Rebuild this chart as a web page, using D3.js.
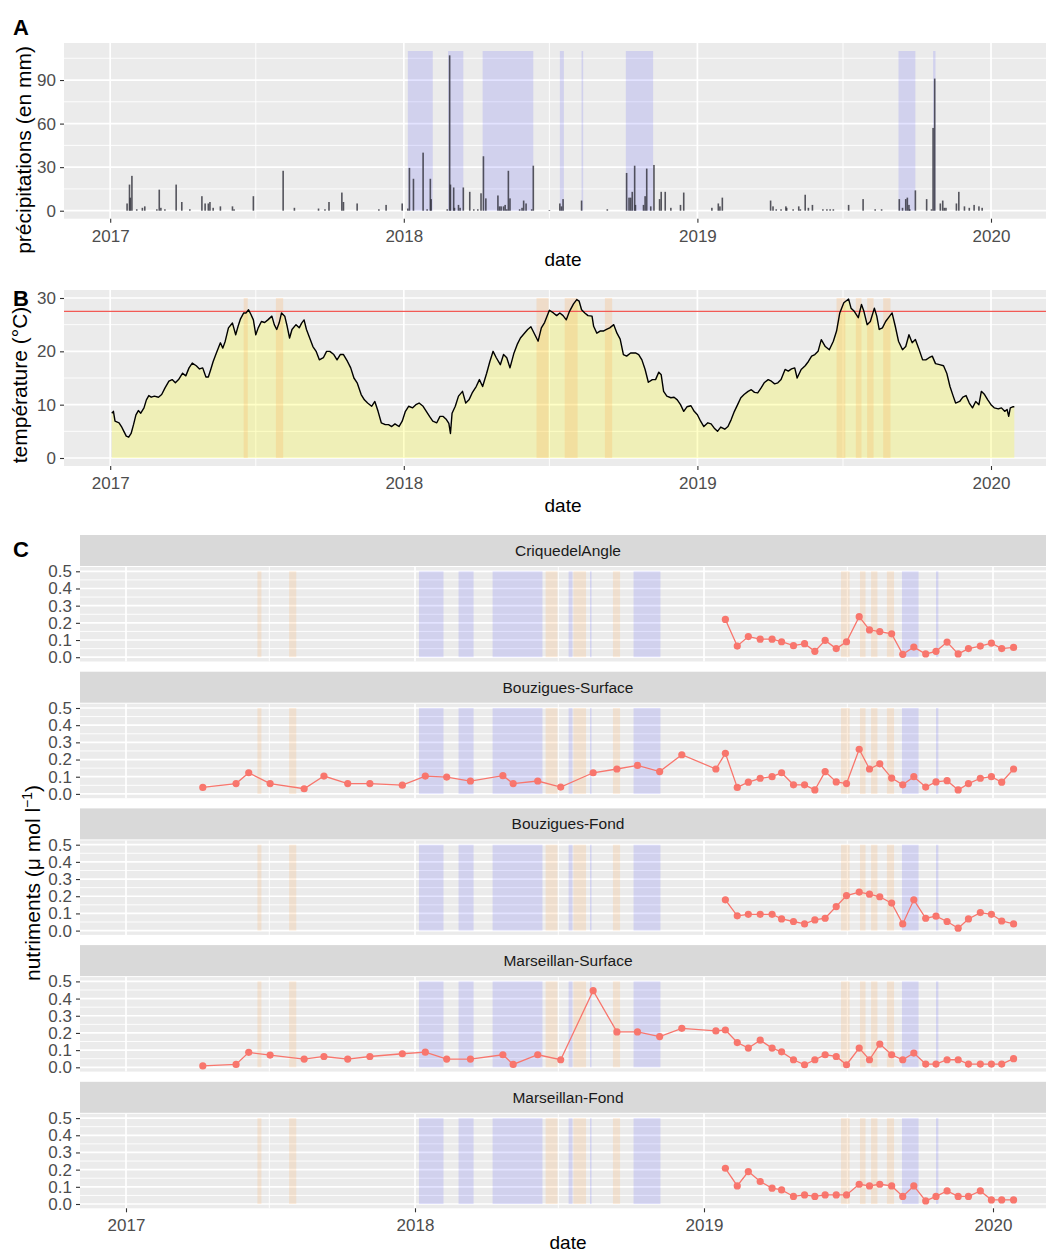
<!DOCTYPE html>
<html>
<head>
<meta charset="utf-8">
<script src="https://cdn.jsdelivr.net/npm/d3@7"></script>
<style>
  body { margin: 0; background: #fff; }
  svg { display: block; }
</style>
</head>
<body>
<script>
// ---------------------------------------------------------------------------
// Data
// ---------------------------------------------------------------------------
const yearTicks = ["2017-01-01", "2018-01-01", "2019-01-01", "2020-01-01"];
const halfYearGrid = ["2017-07-01", "2018-07-01", "2019-07-01"];

// Heavy-rain periods (blue) and heat periods (orange), start / end dates
const rainEvents = [
  ["2018-01-06", "2018-02-06"], ["2018-02-25", "2018-03-16"], ["2018-04-09", "2018-06-11"],
  ["2018-07-14", "2018-07-19"], ["2018-08-10", "2018-08-12"], ["2018-10-04", "2018-11-07"],
  ["2019-09-08", "2019-09-29"], ["2019-10-21", "2019-10-24"]
];
const heatEvents = [
  ["2017-06-16", "2017-06-21"], ["2017-07-26", "2017-08-04"], ["2018-06-15", "2018-06-30"],
  ["2018-07-20", "2018-08-05"], ["2018-09-08", "2018-09-17"], ["2019-06-23", "2019-07-04"],
  ["2019-07-17", "2019-07-24"], ["2019-07-31", "2019-08-08"], ["2019-08-20", "2019-08-29"]
];

// Daily precipitation: day number counted from 1 Jan 2017, and amount in mm
const seriesOrigin = "2017-01-01";
const rainDay = [21, 24, 25, 27, 33, 40, 43, 58, 61, 63, 68, 82, 89, 99, 114, 118, 122, 124, 128, 137,
  152, 154, 178, 215, 229, 259, 267, 272, 288, 290, 307, 334, 343, 363, 370, 372, 377, 389, 394, 398,
  399, 419, 422, 423, 427, 428, 433, 435, 439, 447, 452, 457, 461, 464, 467, 482, 484, 486, 489, 491,
  493, 495, 497, 509, 512, 514, 517, 524, 526, 546, 559, 561, 563, 586, 618, 642, 645, 647, 649, 652,
  653, 663, 665, 667, 672, 676, 683, 685, 690, 697, 709, 713, 748, 756, 758, 761, 821, 824, 828, 834,
  840, 841, 849, 856, 858, 864, 868, 873, 886, 891, 895, 899, 918, 936, 951, 959, 981, 985, 989, 991,
  993, 994, 1001, 1015, 1021, 1023, 1025, 1032, 1035, 1037, 1039, 1052, 1055, 1062, 1068, 1074, 1080, 1084];
const rainMm = [5, 18, 9, 24, 1, 2, 3, 1, 14.5, 2, 1, 18, 6, 1, 10, 5, 5, 6, 2, 3,
  3, 1, 10, 27.5, 2, 1.5, 1, 6, 12.5, 6, 5, 1, 4, 5, 1.5, 29.5, 22, 40, 1, 22,
  8, 1, 107, 18, 16, 2, 4, 2, 16, 13, 1, 1, 12, 37.5, 8.5, 10.5, 3, 3, 3, 4,
  1, 27.5, 8.5, 1, 2, 7, 5, 1, 31, 0.5, 5, 3, 8, 7, 1, 26, 9, 9, 13, 31,
  4, 4, 10, 29, 3, 31.5, 8, 13, 13, 2, 4, 12.5, 2, 5, 3, 9, 7, 3, 1, 1,
  3, 2, 1, 3, 1, 11, 2, 4, 1, 1, 1, 1, 4, 8, 1, 1, 8, 2, 8, 9,
  4, 1, 14, 8, 1, 57, 91, 5, 7, 2, 2, 5, 13, 3, 2, 4, 3, 2];

// Water temperature (°C): day number from 1 Jan 2017 and value
const tempDay = [2, 4, 6, 11, 14, 17, 20, 23, 26, 29, 32, 35, 38, 42, 45, 48, 51, 55, 60, 64,
  68, 73, 77, 81, 85, 90, 94, 98, 102, 107, 111, 115, 119, 122, 125, 128, 132, 137, 140, 143,
  147, 152, 156, 159, 162, 166, 169, 172, 175, 178, 181, 184, 188, 192, 196, 201, 204, 207, 210, 213,
  217, 220, 223, 226, 231, 235, 238, 241, 244, 248, 252, 256, 260, 265, 269, 273, 278, 282, 286, 290,
  295, 299, 303, 307, 312, 316, 320, 325, 329, 333, 337, 342, 346, 350, 354, 359, 363, 367, 371, 376,
  380, 384, 389, 393, 397, 401, 406, 410, 414, 418, 421, 423, 425, 429, 433, 438, 442, 446, 450, 455,
  459, 463, 468, 472, 476, 480, 485, 489, 493, 497, 502, 506, 510, 515, 519, 523, 530, 532, 536, 540,
  546, 551, 555, 559, 563, 567, 571, 576, 580, 583, 586, 590, 594, 599, 601, 605, 609, 613, 617, 621,
  626, 630, 634, 638, 642, 647, 653, 657, 661, 665, 669, 674, 678, 682, 685, 688, 692, 697, 701, 705,
  709, 713, 717, 722, 726, 730, 734, 738, 743, 747, 751, 755, 759, 764, 768, 772, 776, 780, 784, 788,
  793, 797, 801, 805, 809, 813, 818, 822, 826, 830, 834, 839, 843, 847, 851, 854, 859, 864, 868, 872,
  876, 880, 884, 889, 894, 899, 903, 907, 912, 918, 921, 925, 930, 934, 937, 941, 945, 950, 953, 956,
  960, 964, 969, 972, 976, 980, 985, 989, 993, 997, 1001, 1005, 1010, 1014, 1018, 1022, 1026, 1031, 1036, 1040,
  1044, 1048, 1051, 1056, 1060, 1064, 1068, 1072, 1076, 1080, 1083, 1087, 1091, 1095, 1099, 1104, 1108, 1112, 1115, 1117,
  1119, 1122, 1124];
const tempC = [8.4, 8.75, 6.9, 6.6, 5.9, 5.0, 4.1, 3.9, 4.6, 6.25, 8.1, 8.9, 8.4, 9.4, 10.9, 11.7, 11.4, 11.6, 11.4, 11.9,
  13.1, 14.4, 14.7, 14.1, 14.7, 15.9, 15.4, 16.9, 17.8, 17.3, 16.7, 16.9, 15.2, 15.2, 16.6, 18.1, 19.7, 21.6, 20.6, 21.9,
  24.4, 25.3, 23.1, 24.7, 26.1, 27.2, 27.2, 27.8, 26.9, 25.9, 23.1, 24.4, 25.6, 25.4, 25.9, 26.6, 25.0, 24.1, 25.3, 27.2,
  26.6, 24.7, 22.5, 24.1, 25.0, 24.4, 25.3, 25.9, 24.1, 22.5, 20.9, 20.0, 18.4, 18.8, 20.0, 20.0, 19.4, 18.4, 19.4, 19.4,
  18.1, 16.9, 15.0, 14.1, 11.9, 10.9, 10.3, 9.7, 10.6, 8.75, 6.6, 6.25, 6.25, 5.9, 6.4, 5.9, 6.9, 8.75, 9.7, 9.4,
  10.0, 10.3, 9.7, 8.75, 7.8, 6.9, 6.6, 7.8, 7.8, 7.2, 6.5, 4.6, 8.4, 9.7, 11.6, 12.5, 10.3, 10.9, 12.2, 13.4,
  14.7, 13.4, 15.9, 18.1, 20.0, 18.8, 17.5, 19.4, 18.8, 16.9, 19.7, 21.3, 22.5, 23.4, 24.1, 24.6, 22.5, 21.9, 24.4, 25.4,
  27.7, 27.2, 26.7, 27.2, 26.7, 25.9, 27.5, 28.9, 29.7, 29.4, 27.8, 27.2, 26.7, 26.6, 24.7, 23.4, 23.8, 23.8, 24.1, 24.4,
  25.0, 23.4, 22.3, 19.4, 19.1, 19.7, 19.7, 19.4, 18.4, 16.6, 14.2, 14.7, 14.7, 16.1, 15.6, 12.5, 11.6, 11.3, 11.4, 10.9,
  10.0, 8.75, 9.6, 9.8, 8.75, 8.1, 6.9, 5.9, 6.6, 6.4, 5.6, 5.0, 5.8, 5.4, 5.9, 7.2, 8.75, 10.0, 11.3, 11.9,
  12.5, 12.8, 12.3, 12.2, 13.1, 14.1, 14.7, 14.4, 13.9, 14.1, 14.7, 16.6, 16.3, 16.7, 16.9, 15.0, 16.6, 17.3, 18.1, 19.1,
  19.4, 20.0, 22.2, 20.9, 20.3, 21.9, 23.8, 27.2, 29.1, 29.8, 28.1, 27.5, 26.3, 28.8, 27.5, 25.0, 25.6, 28.1, 26.6, 24.1,
  24.4, 25.6, 26.6, 27.2, 24.7, 21.9, 20.3, 20.9, 23.1, 21.6, 22.2, 20.6, 18.4, 18.4, 18.8, 19.1, 17.7, 17.5, 17.3, 15.9,
  13.4, 11.6, 10.3, 10.6, 11.4, 11.7, 10.3, 9.4, 10.6, 10.0, 12.5, 11.9, 10.9, 10.0, 9.4, 9.2, 9.4, 8.75, 9.1, 7.8,
  9.4, 9.6, 9.6];
const heatThreshold = 27.5;

// Nutrient sampling: two campaigns (surface stations sampled from 2017)
const campaign1 = ["2017-04-08", "2017-05-20", "2017-06-05", "2017-07-02", "2017-08-14", "2017-09-08",
  "2017-10-08", "2017-11-05", "2017-12-16", "2018-01-14", "2018-02-10", "2018-03-12", "2018-04-22",
  "2018-05-05", "2018-06-05", "2018-07-04", "2018-08-14", "2018-09-13", "2018-10-09", "2018-11-06",
  "2018-12-04", "2019-01-16"];
const campaign2 = ["2019-01-28", "2019-02-12", "2019-02-26", "2019-03-13", "2019-03-28", "2019-04-09",
  "2019-04-24", "2019-05-08", "2019-05-21", "2019-06-03", "2019-06-17", "2019-06-30", "2019-07-16",
  "2019-07-29", "2019-08-11", "2019-08-26", "2019-09-09", "2019-09-23", "2019-10-08", "2019-10-21",
  "2019-11-04", "2019-11-18", "2019-12-01", "2019-12-16", "2019-12-30", "2020-01-12", "2020-01-27"];

const stations = ["CriquedelAngle", "Bouzigues-Surface", "Bouzigues-Fond", "Marseillan-Surface", "Marseillan-Fond"];

const nutCrique = [0.22, 0.065, 0.12, 0.105, 0.105, 0.09, 0.067, 0.079, 0.034, 0.098, 0.05, 0.09, 0.236,
  0.159, 0.149, 0.136, 0.017, 0.059, 0.019, 0.034, 0.088, 0.019, 0.05, 0.065, 0.082, 0.05, 0.057];
const nutBouzSurf = [0.038, 0.06, 0.123, 0.06, 0.03, 0.104, 0.06, 0.06, 0.051, 0.104, 0.098, 0.075, 0.106,
  0.06, 0.075, 0.04, 0.123, 0.145, 0.166, 0.13, 0.228, 0.145,
  0.236, 0.038, 0.068, 0.091, 0.1, 0.123, 0.053, 0.053, 0.023, 0.13, 0.07, 0.06, 0.26, 0.145, 0.175,
  0.092, 0.053, 0.1, 0.04, 0.07, 0.077, 0.023, 0.06, 0.091, 0.1, 0.068, 0.145];
const nutBouzFond = [0.179, 0.086, 0.095, 0.095, 0.095, 0.068, 0.053, 0.039, 0.062, 0.072, 0.14, 0.204,
  0.224, 0.212, 0.197, 0.16, 0.039, 0.179, 0.072, 0.084, 0.053, 0.014, 0.068, 0.105, 0.095, 0.056, 0.039];
const nutMarsSurf = [0.008, 0.017, 0.087, 0.071, 0.048, 0.063, 0.048, 0.063, 0.079, 0.088, 0.048, 0.048,
  0.073, 0.017, 0.073, 0.044, 0.446, 0.206, 0.206, 0.179, 0.227, 0.212,
  0.217, 0.144, 0.112, 0.158, 0.112, 0.09, 0.044, 0.015, 0.044, 0.073, 0.063, 0.015, 0.112, 0.044, 0.135,
  0.073, 0.044, 0.083, 0.019, 0.019, 0.044, 0.044, 0.019, 0.019, 0.019, 0.019, 0.05];
const nutMarsFond = [0.208, 0.105, 0.189, 0.131, 0.092, 0.082, 0.044, 0.053, 0.044, 0.053, 0.053, 0.053,
  0.115, 0.105, 0.115, 0.105, 0.044, 0.105, 0.018, 0.044, 0.076, 0.044, 0.044, 0.076, 0.024, 0.024, 0.024];

const tempTicks = [0, 10, 20, 30], tempMinor = [5, 15, 25];
const rainTicks = [0, 30, 60, 90], rainMinor = [15, 45, 75, 105];
const nutTicks = [0, 0.1, 0.2, 0.3, 0.4, 0.5], nutMinor = [0.05, 0.15, 0.25, 0.35, 0.45];

// ---------------------------------------------------------------------------
// Drawing
// ---------------------------------------------------------------------------
const FONT = "'Liberation Sans', Arial, Helvetica, sans-serif";
const W = 1046, H = 1254;
const parse = d3.timeParse("%Y-%m-%d");
const origin = parse(seriesOrigin);
const fromDay = d => d3.timeDay.offset(origin, d);
const years = yearTicks.map(parse);
const halfYears = halfYearGrid.map(parse);
const RED = "#F8766D";

const svg = d3.select("body").append("svg").attr("width", W).attr("height", H);
svg.append("rect").attr("width", W).attr("height", H).attr("fill", "#fff");

let clipId = 0;
function panel(box, x, y, yMajor, yMinor) {
  const g = svg.append("g");
  g.append("rect").attr("x", box.l).attr("y", box.t)
    .attr("width", box.r - box.l).attr("height", box.b - box.t).attr("fill", "#EBEBEB");
  const grid = g.append("g").attr("stroke", "#fff");
  yMinor.forEach(v => grid.append("line").attr("x1", box.l).attr("x2", box.r)
    .attr("y1", y(v)).attr("y2", y(v)).attr("stroke-width", 0.9));
  halfYears.forEach(d => grid.append("line").attr("x1", x(d)).attr("x2", x(d))
    .attr("y1", box.t).attr("y2", box.b).attr("stroke-width", 0.9));
  yMajor.forEach(v => grid.append("line").attr("x1", box.l).attr("x2", box.r)
    .attr("y1", y(v)).attr("y2", y(v)).attr("stroke-width", 1.7));
  years.forEach(d => grid.append("line").attr("x1", x(d)).attr("x2", x(d))
    .attr("y1", box.t).attr("y2", box.b).attr("stroke-width", 1.7));
  const id = "clip" + (clipId++);
  svg.append("clipPath").attr("id", id).append("rect")
    .attr("x", box.l).attr("y", box.t).attr("width", box.r - box.l).attr("height", box.b - box.t);
  return g.append("g").attr("clip-path", `url(#${id})`);
}

function styleAxis(ax, size) {
  ax.attr("font-family", FONT).attr("font-size", size);
  ax.select(".domain").remove();
  ax.selectAll(".tick line").attr("stroke", "#333").attr("stroke-width", 1.1);
  ax.selectAll(".tick text").attr("fill", "#4D4D4D");
}
function yAxis(box, y, values, fmt) {
  const ax = svg.append("g").attr("transform", `translate(${box.l},0)`)
    .call(d3.axisLeft(y).tickValues(values).tickSize(4).tickPadding(4).tickFormat(fmt));
  styleAxis(ax, 17);
}
function xAxis(box, x) {
  const ax = svg.append("g").attr("transform", `translate(0,${box.b})`)
    .call(d3.axisBottom(x).tickValues(years).tickSize(4).tickPadding(7).tickFormat(d3.timeFormat("%Y")));
  styleAxis(ax, 17);
}
function text(x, y, str, opts = {}) {
  const t = svg.append("text").attr("x", x).attr("y", y).text(str)
    .attr("font-family", FONT).attr("font-size", opts.size || 19)
    .attr("fill", opts.fill || "#000").attr("text-anchor", opts.anchor || "middle");
  if (opts.weight) t.attr("font-weight", opts.weight);
  if (opts.rotate) t.attr("transform", `rotate(-90,${x},${y})`);
  return t;
}
function bands(g, x, y0, y1, events, fill, opacity) {
  g.selectAll(null).data(events).enter().append("rect")
    .attr("x", d => x(parse(d[0])))
    .attr("width", d => Math.max(1.2, x(parse(d[1])) - x(parse(d[0]))))
    .attr("y", y1).attr("height", y0 - y1)
    .attr("fill", fill).attr("opacity", opacity);
}

// ---- A : precipitation ----------------------------------------------------
const boxA = { l: 64, r: 1046, t: 43, b: 218.7 };
const xAB = d3.scaleTime().domain([parse("2017-01-01"), parse("2020-01-01")]).range([110.2, 991]);
const yA = d3.scaleLinear().domain([-5.5, 115.5]).range([boxA.b, boxA.t]);
const gA = panel(boxA, xAB, yA, rainTicks, rainMinor);
bands(gA, xAB, yA(0), yA(110), rainEvents, "#0000FF", 0.11);
gA.selectAll(null).data(d3.range(rainDay.length)).enter().append("rect")
  .attr("x", i => xAB(fromDay(rainDay[i])) - 0.8).attr("width", 1.6)
  .attr("y", i => yA(rainMm[i])).attr("height", i => yA(0) - yA(rainMm[i]))
  .attr("fill", "#2E2E38").attr("opacity", 0.8);
yAxis(boxA, yA, rainTicks, d3.format("d"));
xAxis(boxA, xAB);
text(31, 150, "précipitations (en mm)", { size: 21, rotate: true });
text(563, 266, "date", { size: 19 });
text(13, 35, "A", { size: 22, weight: "bold", anchor: "start" });

// ---- B : temperature ------------------------------------------------------
const boxB = { l: 64, r: 1046, t: 290, b: 466 };
const yB = d3.scaleLinear().domain([-1.5, 31.5]).range([boxB.b, boxB.t]);
const gB = panel(boxB, xAB, yB, tempTicks, tempMinor);
const tempIdx = d3.range(tempDay.length);
gB.append("path").datum(tempIdx)
  .attr("d", d3.area().x(i => xAB(fromDay(tempDay[i]))).y0(yB(0)).y1(i => yB(tempC[i])))
  .attr("fill", "#FFFF00").attr("opacity", 0.22);
bands(gB, xAB, yB(0), yB(30), heatEvents, "#FFA040", 0.2);
gB.append("line").attr("x1", boxB.l).attr("x2", boxB.r)
  .attr("y1", yB(heatThreshold)).attr("y2", yB(heatThreshold))
  .attr("stroke", "#F25A55").attr("stroke-width", 1.3);
gB.append("path").datum(tempIdx)
  .attr("d", d3.line().x(i => xAB(fromDay(tempDay[i]))).y(i => yB(tempC[i])))
  .attr("fill", "none").attr("stroke", "#000").attr("stroke-width", 1.4).attr("stroke-linejoin", "round");
yAxis(boxB, yB, tempTicks, d3.format("d"));
xAxis(boxB, xAB);
text(27, 385, "température (°C)", { size: 21, rotate: true });
text(563, 512, "date", { size: 19 });
text(13, 306, "B", { size: 22, weight: "bold", anchor: "start" });

// ---- C : nutrients per station -------------------------------------------
const xC = d3.scaleTime().domain([parse("2017-01-01"), parse("2020-01-01")]).range([126, 993]);
const nutSeries = [
  { dates: campaign2, values: nutCrique },
  { dates: campaign1.concat(campaign2), values: nutBouzSurf },
  { dates: campaign2, values: nutBouzFond },
  { dates: campaign1.concat(campaign2), values: nutMarsSurf },
  { dates: campaign2, values: nutMarsFond }
];
const facetPitch = 136.7, stripH = 31, panelH = 94.5;
let lastBox;
stations.forEach((name, k) => {
  const top = 535 + k * facetPitch;
  svg.append("rect").attr("x", 80).attr("y", top).attr("width", W - 80).attr("height", stripH)
    .attr("fill", "#D9D9D9");
  text(568, top + stripH / 2 + 5.5, name, { size: 15.5, fill: "#1A1A1A" });
  const box = { l: 80, r: 1046, t: top + stripH + 1, b: top + stripH + 1 + panelH };
  const y = d3.scaleLinear().domain([-0.025, 0.525]).range([box.b, box.t]);
  const g = panel(box, xC, y, nutTicks, nutMinor);
  bands(g, xC, y(0), y(0.5), heatEvents, "#FFA040", 0.17);
  bands(g, xC, y(0), y(0.5), rainEvents, "#0000FF", 0.11);
  const s = nutSeries[k];
  const idx = d3.range(s.values.length);
  g.append("path").datum(idx)
    .attr("d", d3.line().x(i => xC(parse(s.dates[i]))).y(i => y(s.values[i])))
    .attr("fill", "none").attr("stroke", RED).attr("stroke-width", 1.3);
  g.selectAll(null).data(idx).enter().append("circle")
    .attr("cx", i => xC(parse(s.dates[i]))).attr("cy", i => y(s.values[i]))
    .attr("r", 3.6).attr("fill", RED);
  yAxis(box, y, nutTicks, d3.format(".1f"));
  lastBox = box;
});
xAxis(lastBox, xC);
text(568, 1249, "date", { size: 19 });
text(13, 557, "C", { size: 22, weight: "bold", anchor: "start" });

// y title with superscript exponent
const tC = svg.append("text").attr("x", 40).attr("y", 883)
  .attr("font-family", FONT).attr("font-size", 21).attr("text-anchor", "middle")
  .attr("transform", "rotate(-90,40,883)");
tC.append("tspan").text("nutriments (μ mol l");
tC.append("tspan").text("−1").attr("font-size", 14).attr("dy", -8);
tC.append("tspan").text(")").attr("dy", 8);
</script>
</body>
</html>
